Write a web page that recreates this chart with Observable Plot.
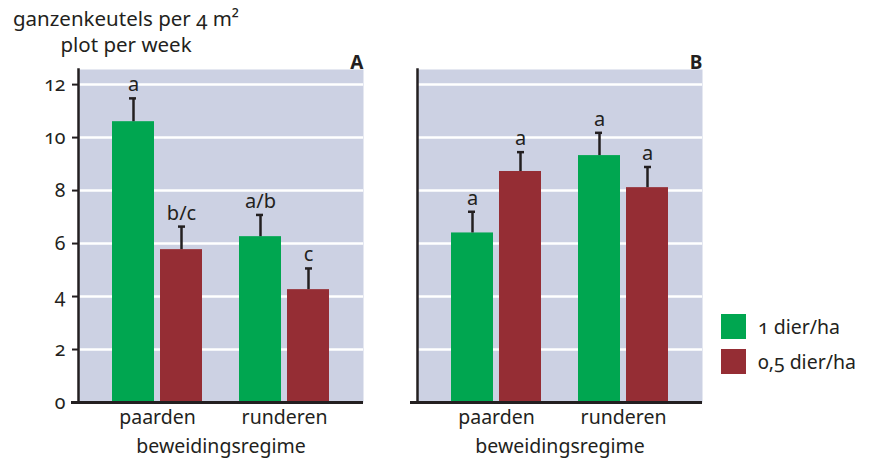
<!DOCTYPE html>
<html>
<head>
<meta charset="utf-8">
<script src="https://cdn.jsdelivr.net/npm/d3@7"></script>
<script src="https://cdn.jsdelivr.net/npm/@observablehq/plot@0.6"></script>
<style>
  html, body { margin: 0; padding: 0; background: #fff; }
  #wrap { position: relative; width: 870px; height: 460px; font-family: "Noto Sans", "Open Sans", sans-serif; color: #231f20; font-variant-numeric: oldstyle-nums; font-feature-settings: "onum" 1; }
  #title { position: absolute; left: 0; top: 5px; width: 252px; text-align: center; font-size: 20.5px; line-height: 26px; }
  #legend { position: absolute; left: 721px; top: 314px; font-size: 19.5px; }
  .row { display: flex; align-items: center; height: 25px; margin-bottom: 10px; }
  .sw { width: 25px; height: 25px; margin-right: 12px; }
</style>
</head>
<body>
<div id="wrap">
  <div id="chart"></div>
  <div id="title">ganzenkeutels per 4 m²<br>plot per week</div>
  <div id="legend"></div>
</div>
<script>
// ---- data ----
const panels = ["A", "B"];
const regimes = ["paarden", "runderen"];
const doses = ["1 dier/ha", "0,5 dier/ha"];
const colors = ["#00a650", "#952d34"];

// panel A
const meanA1 = [10.6, 6.26];
const seA1 = [0.88, 0.82];
const sigA1 = ["a", "a/b"];
const meanA05 = [5.77, 4.26];
const seA05 = [0.87, 0.80];
const sigA05 = ["b/c", "c"];
// panel B
const meanB1 = [6.4, 9.32];
const seB1 = [0.8, 0.86];
const sigB1 = ["a", "a"];
const meanB05 = [8.72, 8.11];
const seB05 = [0.73, 0.78];
const sigB05 = ["a", "a"];

const yTicks = [0, 2, 4, 6, 8, 10, 12];

function build(panel, dose, means, ses, sigs) {
  return regimes.map((r, i) => ({panel, dose, regime: r, mean: means[i], upper: means[i] + ses[i], sig: sigs[i]}));
}
const rows1 = [...build("A", doses[0], meanA1, seA1, sigA1), ...build("B", doses[0], meanB1, seB1, sigB1)];
const rows05 = [...build("A", doses[1], meanA05, seA05, sigA05), ...build("B", doses[1], meanB05, seB05, sigB05)];

const ink = "#231f20";
const bg = "#ccd1e3";

const chart = Plot.plot({
  width: 870,
  height: 460,
  marginLeft: 78,
  marginRight: 168,
  marginTop: 69,
  marginBottom: 58,
  style: {fontFamily: "'Noto Sans', 'Open Sans', sans-serif", fontSize: "18px", color: ink, background: "white", overflow: "visible", fontVariantNumeric: "oldstyle-nums", fontFeatureSettings: "'onum' 1"},
  fx: {domain: panels, paddingInner: 0.16, paddingOuter: 0, axis: null},
  x: {domain: regimes, paddingInner: 0.289, paddingOuter: 0.258},
  y: {domain: [0, 12.57]},
  color: {domain: doses, range: colors},
  marks: [
    Plot.frame({fill: bg, stroke: null}),
    Plot.gridY(yTicks.slice(1), {stroke: "white", strokeOpacity: 1, strokeWidth: 2.5}),
    Plot.barY(rows1, {fx: "panel", x: "regime", y: "mean", fill: "dose", insetRight: 48}),
    Plot.barY(rows05, {fx: "panel", x: "regime", y: "mean", fill: "dose", insetLeft: 48}),
    Plot.ruleX(rows1, {fx: "panel", x: "regime", y1: "mean", y2: "upper", dx: -24, stroke: ink, strokeWidth: 2.5}),
    Plot.ruleX(rows05, {fx: "panel", x: "regime", y1: "mean", y2: "upper", dx: 24, stroke: ink, strokeWidth: 2.5}),
    Plot.tickY(rows1, {fx: "panel", x: "regime", y: "upper", insetLeft: 17, insetRight: 66, stroke: ink, strokeWidth: 2.5}),
    Plot.tickY(rows05, {fx: "panel", x: "regime", y: "upper", insetLeft: 66, insetRight: 17, stroke: ink, strokeWidth: 2.5}),
    Plot.text(rows1, {fx: "panel", x: "regime", y: "upper", text: "sig", dx: -24, lineAnchor: "bottom", dy: -7, fontSize: 20, fill: ink}),
    Plot.text(rows05, {fx: "panel", x: "regime", y: "upper", text: "sig", dx: 24, lineAnchor: "bottom", dy: -7, fontSize: 20, fill: ink}),
    Plot.text(panels, {fx: d => d, text: d => d, frameAnchor: "top-right", lineAnchor: "bottom", dy: -1, fontWeight: "bold", fontSize: 19, fill: ink}),
    Plot.text(["beweidingsregime"], {frameAnchor: "bottom", lineAnchor: "middle", dy: 44, fontSize: 19.5, fill: ink}),
    Plot.axisY({ticks: yTicks, tickSize: 6, tickPadding: 7, label: null, stroke: ink, strokeWidth: 2, fill: ink, fontSize: 19.5}),
    Plot.axisX({tickSize: 0, tickPadding: 8, label: null, fontSize: 19.5, fill: ink}),
    Plot.frame({anchor: "left", stroke: ink, strokeWidth: 2.5}),
    Plot.ruleY([0], {stroke: ink, strokeWidth: 3, insetLeft: -7})
  ]
});
document.getElementById("chart").appendChild(chart);

const legend = document.getElementById("legend");
doses.forEach((d, i) => {
  const row = document.createElement("div");
  row.className = "row";
  const sw = document.createElement("div");
  sw.className = "sw";
  sw.style.background = colors[i];
  const t = document.createElement("span");
  t.textContent = d;
  row.appendChild(sw);
  row.appendChild(t);
  legend.appendChild(row);
});
</script>
</body>
</html>
